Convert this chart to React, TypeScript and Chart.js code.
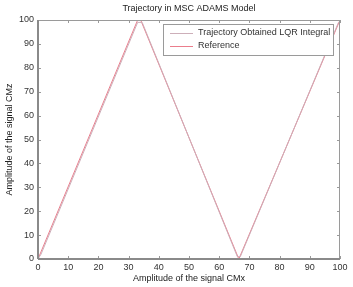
import React, { useEffect, useRef } from "react";
import { Chart, registerables } from "chart.js";
Chart.register(...registerables);

const title = "Trajectory in MSC ADAMS Model";
const xTitle = "Amplitude of the signal CMx";
const yTitle = "Amplitude of the signal CMz";
const legendLabels = ["Trajectory Obtained LQR Integral", "Reference"];
const tickValues = [0, 10, 20, 30, 40, 50, 60, 70, 80, 90, 100];

const refX = [0, 33, 34, 66.5, 100];
const refY = [0, 100, 100, 0, 100];
const trajX = [0, 1, 33, 34.5, 66, 67, 99.5];
const trajY = [0, 2, 99, 99, 1, 1, 99];

const FONT = "'Liberation Sans', Arial, sans-serif";
const frameColor = "#9a9a9a";
const trajColor = "rgb(205,175,185)";
const refColor = "rgb(235,125,140)";

export default function App() {
  const ref = useRef<HTMLCanvasElement>(null);
  useEffect(() => {
    const decor = {
      id: "decor",
      afterDraw(chart: any) {
        const ctx = chart.ctx;
        const a = chart.chartArea;
        const xs = chart.scales.x;
        const ys = chart.scales.y;
        ctx.save();
        ctx.strokeStyle = frameColor;
        ctx.lineWidth = 1;
        ctx.strokeRect(a.left + 0.5, a.top + 0.5, a.right - a.left - 1, a.bottom - a.top - 1);
        ctx.lineWidth = 1;
        for (const v of tickValues) {
          const px = Math.round(xs.getPixelForValue(v)) + 0.5;
          ctx.beginPath();
          ctx.moveTo(px, a.bottom); ctx.lineTo(px, a.bottom - 3);
          ctx.moveTo(px, a.top); ctx.lineTo(px, a.top + 3);
          ctx.stroke();
          const py = Math.round(ys.getPixelForValue(v)) + 0.5;
          ctx.beginPath();
          ctx.moveTo(a.left, py); ctx.lineTo(a.left + 3, py);
          ctx.moveTo(a.right, py); ctx.lineTo(a.right - 3, py);
          ctx.stroke();
        }
        // bottom axis darker line
        ctx.strokeStyle = "#8a8a8a";
        ctx.lineWidth = 2;
        ctx.beginPath();
        ctx.moveTo(a.left, a.bottom); ctx.lineTo(a.right, a.bottom);
        ctx.moveTo(a.left, a.top); ctx.lineTo(a.left, a.bottom);
        ctx.stroke();
        // legend
        const lx = 163, ly = 24, lw = 170, lh = 31;
        ctx.fillStyle = "#fff";
        ctx.fillRect(lx, ly, lw, lh);
        ctx.strokeStyle = frameColor;
        ctx.lineWidth = 1;
        ctx.strokeRect(lx + 0.5, ly + 0.5, lw, lh);
        const colors = [trajColor, refColor];
        ctx.font = `9px ${FONT}`;
        ctx.textBaseline = "middle";
        ctx.textAlign = "left";
        legendLabels.forEach((l, i) => {
          const yy = ly + 9 + i * 13;
          ctx.strokeStyle = colors[i];
          ctx.lineWidth = 1;
          ctx.beginPath();
          ctx.moveTo(170, yy + 0.5); ctx.lineTo(193, yy + 0.5);
          ctx.stroke();
          ctx.fillStyle = "#333";
          ctx.fillText(l, 198, yy);
        });
        // titles
        ctx.fillStyle = "#222";
        ctx.textAlign = "center";
        ctx.textBaseline = "middle";
        ctx.font = `9px ${FONT}`;
        ctx.fillText(title, (a.left + a.right) / 2, 9);
        ctx.fillText(xTitle, (a.left + a.right) / 2, 279);
        ctx.translate(10, (a.top + a.bottom) / 2);
        ctx.rotate(-Math.PI / 2);
        ctx.fillText(yTitle, 0, 0);
        ctx.restore();
      },
    };
    const chart = new Chart(ref.current!, {
      type: "scatter",
      data: {
        datasets: [
          {
            label: legendLabels[0],
            data: trajX.map((x, i) => ({ x, y: trajY[i] })),
            showLine: true,
            borderColor: trajColor,
            borderWidth: 1,
            pointRadius: 0,
          },
          {
            label: legendLabels[1],
            data: refX.map((x, i) => ({ x, y: refY[i] })),
            showLine: true,
            borderColor: refColor,
            borderWidth: 1,
            pointRadius: 0,
          },
        ],
      },
      options: {
        animation: false,
        responsive: false,
        layout: { padding: { top: 20, right: 13, left: 0, bottom: 0 } },
        plugins: { legend: { display: false }, title: { display: false }, tooltip: { enabled: false } },
        scales: {
          x: {
            type: "linear",
            min: 0,
            max: 100,
            afterBuildTicks: (s: any) => { s.ticks = tickValues.map((v) => ({ value: v })); },
            afterFit: (s: any) => { s.height = 28; },
            grid: { display: false, drawTicks: false },
            border: { display: false },
            ticks: { color: "#333", padding: 3, maxRotation: 0, font: { family: FONT, size: 9 } },
          },
          y: {
            type: "linear",
            min: 0,
            max: 100,
            afterBuildTicks: (s: any) => { s.ticks = tickValues.map((v) => ({ value: v })); },
            afterFit: (s: any) => { s.width = 38; },
            grid: { display: false, drawTicks: false },
            border: { display: false },
            ticks: { color: "#333", padding: 4, font: { family: FONT, size: 9 } },
          },
        },
      },
      plugins: [decor],
    });
    return () => chart.destroy();
  }, []);
  return (
    <div style={{ position: "fixed", left: 0, top: 0, width: 353, height: 287, background: "#fff" }}>
      <canvas ref={ref} width={353} height={287} style={{ width: 353, height: 287 }} />
    </div>
  );
}
